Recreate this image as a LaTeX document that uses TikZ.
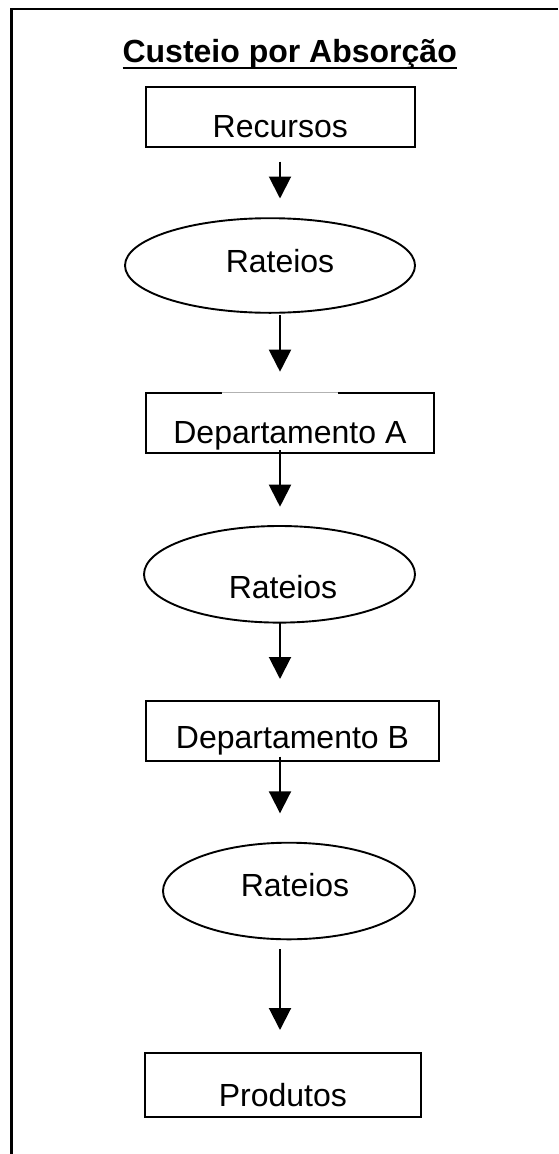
\documentclass[tikz,border=0pt]{standalone}
\usepackage{fontspec}
\setmainfont{Liberation Sans}
\usetikzlibrary{arrows.meta,shapes.geometric}
\begin{document}
\begin{tikzpicture}[x=1pt,y=-1pt,
  every node/.style={inner sep=0pt, outer sep=0pt},
  lbl/.style={font=\fontsize{32}{38}\selectfont},
  stepbox/.style={draw, line width=1.9pt, lbl, align=center, anchor=base},
  oval/.style={draw, ellipse, line width=1.9pt},
  flow/.style={line width=2pt, -{Triangle[length=22pt,width=22pt]}},
  frame/.style={line width=2.4pt}]
\useasboundingbox (0,0) rectangle (558,1154);

% page frame, open on the right and at the bottom
\coordinate (fb) at (11.5,1154);
\coordinate (fc) at (11.5,9);
\coordinate (fr) at (558,9);
\draw[frame] (fb) -- (fc) -- (fr);

% heading
\node[font=\fontsize{32}{38}\selectfont\bfseries, anchor=base] (title) at (289.7,62.3) {Custeio por Absorção};
\draw[line width=2.2pt] ([yshift=-6pt]title.base west) -- ([yshift=-6pt]title.base east);

% flow steps
\node[stepbox, minimum width=269.3pt, text height=50.3pt, text depth=9.7pt] (rec) at (280.3,137) {Recursos};
\node[oval, minimum width=290pt, minimum height=94.6pt] (r1) at (270,265.5) {};
\node[lbl, anchor=base] (r1t) at (280,272.7) {Rateios};
\node[stepbox, minimum width=288.3pt, text height=50.6pt, text depth=10pt] (dA) at (289.9,443.3) {Departamento A};
\node[oval, minimum width=271pt, minimum height=96.6pt] (r2) at (279.5,574.3) {};
\node[lbl, anchor=base] (r2t) at (283,598.3) {Rateios};
\node[stepbox, minimum width=293.6pt, text height=47.6pt, text depth=12.7pt] (dB) at (292.5,748.3) {Departamento B};
\node[oval, minimum width=252pt, minimum height=96.6pt] (r3) at (289,891) {};
\node[lbl, anchor=base] (r3t) at (295,896.7) {Rateios};
\node[stepbox, minimum width=275.4pt, text height=53.4pt, text depth=10.7pt] (prod) at (282.9,1106.6) {Produtos};

% faint stretch on the top edge of the first department box
\draw[white, line width=2.4pt] (221.7,392.7) -- (338,392.7);
\draw[black!30, line width=0.7pt] (221.7,392.7) -- (338,392.7);

% connectors along a common vertical axis
\coordinate (ax) at (280,0);
\draw[flow, shorten <=15pt, shorten >=19.7pt] (rec.south -| ax) -- (r1.north -| ax);
\draw[flow, shorten <=2.2pt, shorten >=21pt] (r1.south -| ax) -- (dA.north -| ax);
\draw[flow, shorten <=-3.3pt, shorten >=19.3pt] (dA.south -| ax) -- (r2.north -| ax);
\draw[flow, shorten <=0pt, shorten >=21.7pt] (r2.south -| ax) -- (dB.north -| ax);
\draw[flow, shorten <=-4.3pt, shorten >=29.4pt] (dB.south -| ax) -- (r3.north -| ax);
\draw[flow, shorten <=10pt, shorten >=23.2pt] (r3.south -| ax) -- (prod.north -| ax);
\end{tikzpicture}
\end{document}
